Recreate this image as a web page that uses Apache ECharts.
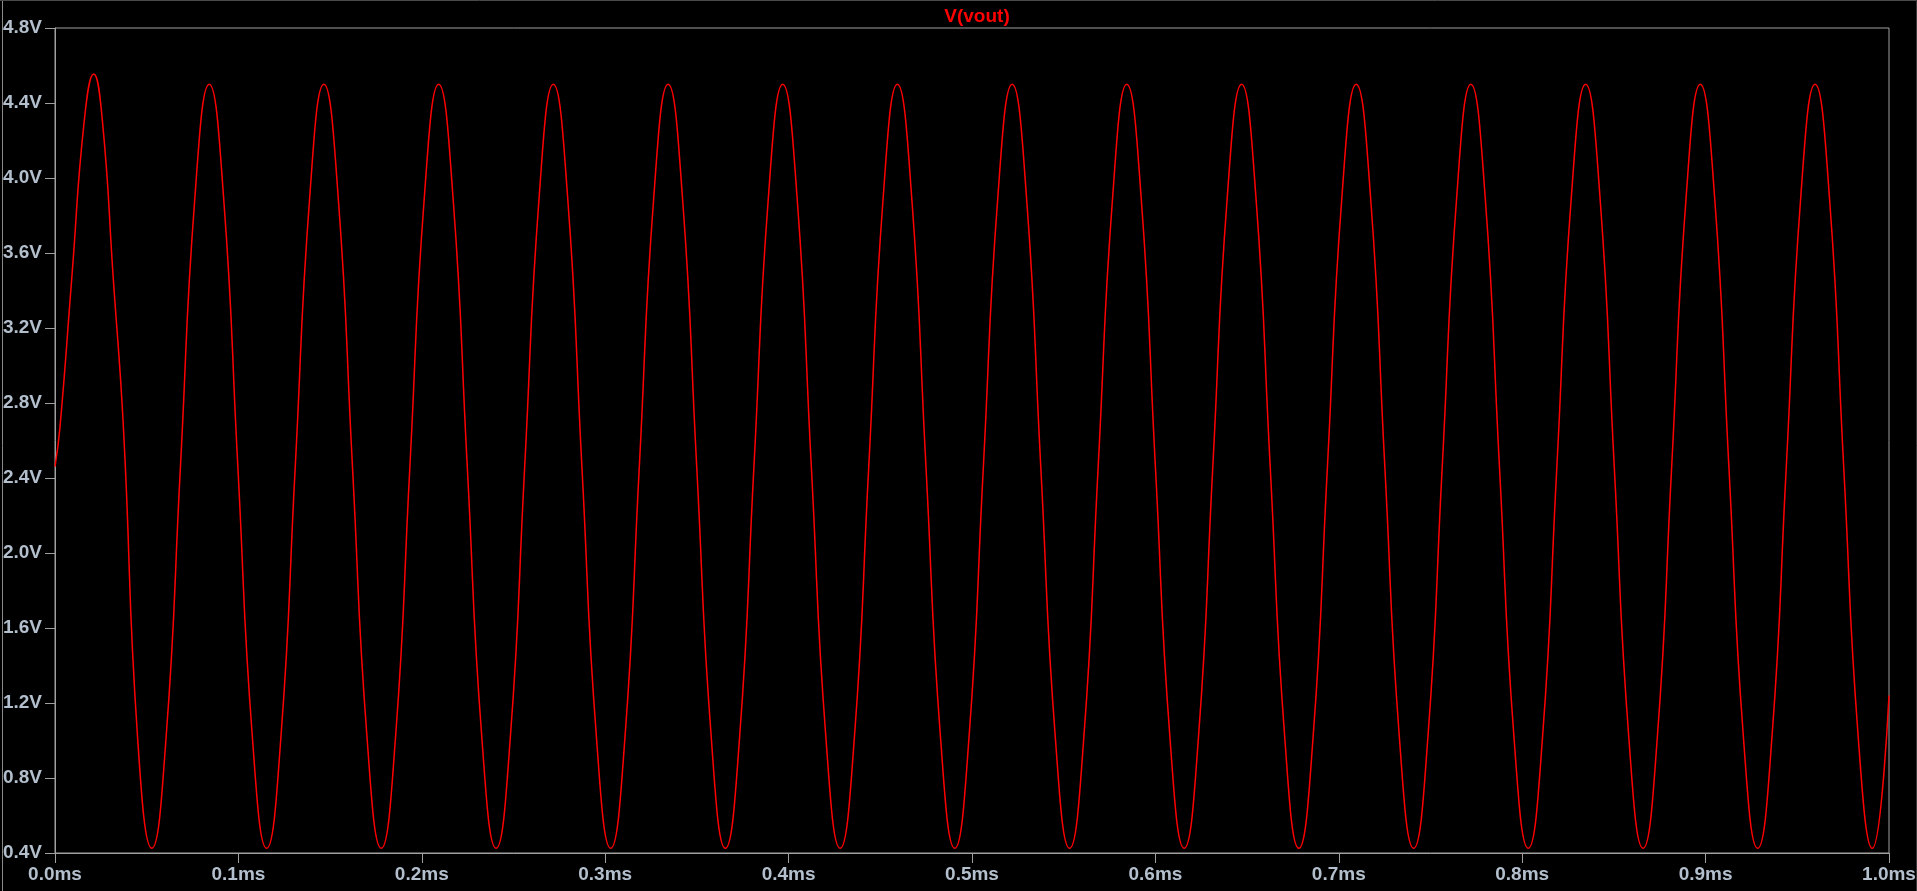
<!DOCTYPE html>
<html>
<head>
<meta charset="utf-8">
<script src="https://cdn.jsdelivr.net/npm/echarts@6/dist/echarts.min.js"></script>
<style>
html,body{margin:0;padding:0;background:#000;}
#chart{width:1917px;height:891px;}
</style>
</head>
<body>
<div id="chart"></div>
<script>
const traceName = 'V(vout)';
// time in ms
const times = [
  0, 0.0027, 0.0091, 0.0160, 0.0211, 0.0258, 0.0318, 0.0373, 0.0450,
  0.0528, 0.0606, 0.0684, 0.0763, 0.0841, 0.0919, 0.0997, 0.1076,
  0.1154, 0.1232, 0.1310, 0.1389, 0.1466, 0.1544, 0.1622, 0.1701,
  0.1779, 0.1857, 0.1935, 0.2014, 0.2092, 0.2170, 0.2248, 0.2327,
  0.2405, 0.2483, 0.2561, 0.2640, 0.2717, 0.2795, 0.2873, 0.2952,
  0.3030, 0.3108, 0.3186, 0.3265, 0.3343, 0.3421, 0.3499, 0.3578,
  0.3655, 0.3733, 0.3811, 0.3890, 0.3968, 0.4046, 0.4124, 0.4203,
  0.4281, 0.4359, 0.4437, 0.4516, 0.4593, 0.4671, 0.4749, 0.4828,
  0.4906, 0.4984, 0.5062, 0.5141, 0.5219, 0.5297, 0.5375, 0.5454,
  0.5532, 0.5610, 0.5688, 0.5767, 0.5844, 0.5922, 0.6000, 0.6079,
  0.6157, 0.6235, 0.6313, 0.6392, 0.6470, 0.6548, 0.6626, 0.6705,
  0.6782, 0.6860, 0.6938, 0.7017, 0.7095, 0.7173, 0.7251, 0.7330,
  0.7408, 0.7486, 0.7564, 0.7643, 0.7720, 0.7798, 0.7876, 0.7955,
  0.8033, 0.8111, 0.8189, 0.8268, 0.8346, 0.8424, 0.8502, 0.8581,
  0.8659, 0.8737, 0.8815, 0.8894, 0.8971, 0.9049, 0.9127, 0.9206,
  0.9284, 0.9362, 0.9440, 0.9519, 0.9597, 0.9675, 0.9753, 0.9832,
  0.9909, 1.0
];
// voltage in V
const volts = [
  2.46, 2.67, 3.46, 4.31, 4.555, 4.31, 3.46, 2.67, 1.02,
  0.425, 1.02, 2.46, 3.90, 4.50, 3.90, 2.46, 1.02,
  0.425, 1.02, 2.46, 3.90, 4.50, 3.90, 2.46, 1.02,
  0.425, 1.02, 2.46, 3.90, 4.50, 3.90, 2.46, 1.02,
  0.425, 1.02, 2.46, 3.90, 4.50, 3.90, 2.46, 1.02,
  0.425, 1.02, 2.46, 3.90, 4.50, 3.90, 2.46, 1.02,
  0.425, 1.02, 2.46, 3.90, 4.50, 3.90, 2.46, 1.02,
  0.425, 1.02, 2.46, 3.90, 4.50, 3.90, 2.46, 1.02,
  0.425, 1.02, 2.46, 3.90, 4.50, 3.90, 2.46, 1.02,
  0.425, 1.02, 2.46, 3.90, 4.50, 3.90, 2.46, 1.02,
  0.425, 1.02, 2.46, 3.90, 4.50, 3.90, 2.46, 1.02,
  0.425, 1.02, 2.46, 3.90, 4.50, 3.90, 2.46, 1.02,
  0.425, 1.02, 2.46, 3.90, 4.50, 3.90, 2.46, 1.02,
  0.425, 1.02, 2.46, 3.90, 4.50, 3.90, 2.46, 1.02,
  0.425, 1.02, 2.46, 3.90, 4.50, 3.90, 2.46, 1.02,
  0.425, 1.02, 2.46, 3.90, 4.50, 3.90, 2.46, 1.02,
  0.425, 1.24
];
const xMin = 0, xMax = 1.0, xStep = 0.1, xUnit = 'ms';
const yMin = 0.4, yMax = 4.8, yStep = 0.4, yUnit = 'V';

const seriesData = times.map((t, i) => [t, volts[i]]);
const labelColor = '#b3bfcc';
const axisColor = '#a0a0a0';
const font = '"Liberation Sans", Arial, sans-serif';

const chart = echarts.init(document.getElementById('chart'), null, {renderer: 'canvas'});
chart.setOption({
  backgroundColor: '#000000',
  animation: false,
  title: {
    text: traceName,
    left: 972, textAlign: 'center', top: 2,
    textStyle: {color: '#ff0000', fontSize: 19, fontWeight: 'bold', fontFamily: font}
  },
  graphic: [
    {type: 'line', shape: {x1: 2.5, y1: 0, x2: 2.5, y2: 891}, style: {stroke: '#8a8a8a', lineWidth: 1}, silent: true},
    {type: 'line', shape: {x1: 0, y1: 0.5, x2: 1917, y2: 0.5}, style: {stroke: '#4a4a4a', lineWidth: 1}, silent: true},
    {type: 'line', shape: {x1: 1916.5, y1: 0, x2: 1916.5, y2: 891}, style: {stroke: '#3a3a3a', lineWidth: 1}, silent: true}
  ],
  grid: {
    left: 55, right: 28, top: 28, bottom: 38,
    show: true, borderColor: axisColor, borderWidth: 1, backgroundColor: '#000000',
    containLabel: false, outerBoundsMode: 'none'
  },
  xAxis: {
    type: 'value', min: xMin, max: xMax, interval: xStep,
    axisLine: {show: true, lineStyle: {color: axisColor, width: 1}},
    axisTick: {show: true, inside: false, length: 10, lineStyle: {color: axisColor}},
    splitLine: {show: false},
    axisLabel: {
      color: labelColor, fontSize: 19, fontWeight: 'bold', fontFamily: font, margin: 12,
      showMinLabel: true, showMaxLabel: true,
      formatter: v => v.toFixed(1) + xUnit
    }
  },
  yAxis: {
    type: 'value', min: yMin, max: yMax, interval: yStep,
    axisLine: {show: true, lineStyle: {color: axisColor, width: 1}},
    axisTick: {show: true, inside: false, length: 10, lineStyle: {color: axisColor}},
    splitLine: {show: false},
    axisLabel: {
      color: labelColor, fontSize: 19, fontWeight: 'bold', fontFamily: font, margin: 13,
      showMinLabel: true, showMaxLabel: true,
      formatter: v => v.toFixed(1) + yUnit
    }
  },
  series: [{
    name: traceName,
    type: 'line',
    data: seriesData,
    smooth: 0.5,
    showSymbol: false,
    lineStyle: {color: '#ff0000', width: 1.5},
    clip: true
  }]
});
</script>
</body>
</html>
